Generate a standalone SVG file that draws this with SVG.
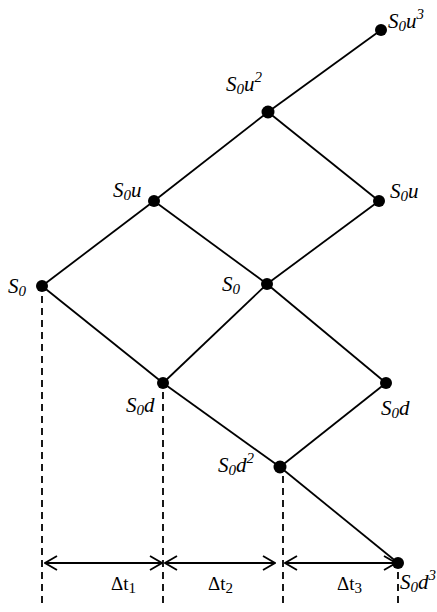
<svg xmlns="http://www.w3.org/2000/svg" width="437" height="612" viewBox="0 0 437 612">
<style>
.e{stroke:#000;stroke-width:1.8;fill:none}
.d{stroke:#000;stroke-width:1.8;stroke-dasharray:7 5;fill:none}
.a{stroke:#000;stroke-width:1.8;fill:none;marker-start:url(#ah);marker-end:url(#ah)}
.n{fill:#000}
.l{font-family:"Liberation Serif",serif;font-style:italic;font-size:21px;fill:#000}
.s{font-size:15px}
.t{font-family:"Liberation Serif",serif;font-size:19px;fill:#000}
</style>
<defs>
<marker id="ah" viewBox="0 0 14 16" refX="13" refY="8" markerWidth="14" markerHeight="16" markerUnits="userSpaceOnUse" orient="auto-start-reverse">
<path d="M1,1 L13,8 L1,15" fill="none" stroke="#000" stroke-width="1.8"/>
</marker>
</defs>
<g id="connectors">
<line class="e" x1="42" y1="286" x2="154" y2="201"/>
<line class="e" x1="42" y1="286" x2="163" y2="383"/>
<line class="e" x1="154" y1="201" x2="268" y2="112"/>
<line class="e" x1="154" y1="201" x2="267" y2="284"/>
<line class="e" x1="268" y1="112" x2="381" y2="30"/>
<line class="e" x1="268" y1="112" x2="379" y2="201"/>
<line class="e" x1="267" y1="284" x2="379" y2="201"/>
<line class="e" x1="267" y1="284" x2="386" y2="383"/>
<line class="e" x1="163" y1="383" x2="267" y2="284"/>
<line class="e" x1="163" y1="383" x2="280" y2="467"/>
<line class="e" x1="280" y1="467" x2="386" y2="383"/>
<line class="e" x1="280" y1="467" x2="398" y2="563"/>
<line class="d" x1="42" y1="296" x2="42" y2="606"/>
<line class="d" x1="163" y1="392" x2="163" y2="606"/>
<line class="d" x1="283" y1="476" x2="283" y2="606"/>
<line class="d" x1="398" y1="572" x2="398" y2="606"/>
<line class="a" x1="45" y1="563" x2="162" y2="563"/>
<line class="a" x1="165" y1="563" x2="275" y2="563"/>
<line class="a" x1="285" y1="563" x2="396" y2="563"/>
</g>
<g id="n0"><circle class="n" cx="42" cy="286" r="6"/><text class="l" x="8" y="293">S<tspan class="s" dy="3">0</tspan></text></g>
<g id="n1u"><circle class="n" cx="154" cy="201" r="6"/><text class="l" x="113" y="197">S<tspan class="s" dy="3">0</tspan><tspan dy="-3">u</tspan></text></g>
<g id="n2u2"><circle class="n" cx="268" cy="112" r="6.5"/><text class="l" x="226" y="91">S<tspan class="s" dy="3">0</tspan><tspan dy="-3">u</tspan><tspan class="s" dy="-9">2</tspan></text></g>
<g id="n3u3"><circle class="n" cx="381" cy="30" r="6"/><text class="l" x="388" y="28">S<tspan class="s" dy="3">0</tspan><tspan dy="-3">u</tspan><tspan class="s" dy="-9">3</tspan></text></g>
<g id="n2s0"><circle class="n" cx="267" cy="284" r="6"/><text class="l" x="222" y="291">S<tspan class="s" dy="3">0</tspan></text></g>
<g id="n3u"><circle class="n" cx="379" cy="201" r="6"/><text class="l" x="390" y="198">S<tspan class="s" dy="3">0</tspan><tspan dy="-3">u</tspan></text></g>
<g id="n1d"><circle class="n" cx="163" cy="383" r="6"/><text class="l" x="126" y="412">S<tspan class="s" dy="3">0</tspan><tspan dy="-3">d</tspan></text></g>
<g id="n3d"><circle class="n" cx="386" cy="383" r="6"/><text class="l" x="381" y="415">S<tspan class="s" dy="3">0</tspan><tspan dy="-3">d</tspan></text></g>
<g id="n2d2"><circle class="n" cx="280" cy="467" r="6.5"/><text class="l" x="218" y="472">S<tspan class="s" dy="3">0</tspan><tspan dy="-3">d</tspan><tspan class="s" dy="-9">2</tspan></text></g>
<g id="n3d3"><circle class="n" cx="398" cy="563" r="6"/><text class="l" x="400" y="589">S<tspan class="s" dy="3">0</tspan><tspan dy="-3">d</tspan><tspan class="s" dy="-9">3</tspan></text></g>
<g id="labels">
<text class="t" x="111" y="590">Δt<tspan class="s" dy="3">1</tspan></text>
<text class="t" x="208" y="590">Δt<tspan class="s" dy="3">2</tspan></text>
<text class="t" x="337" y="590">Δt<tspan class="s" dy="3">3</tspan></text>
</g>
</svg>
